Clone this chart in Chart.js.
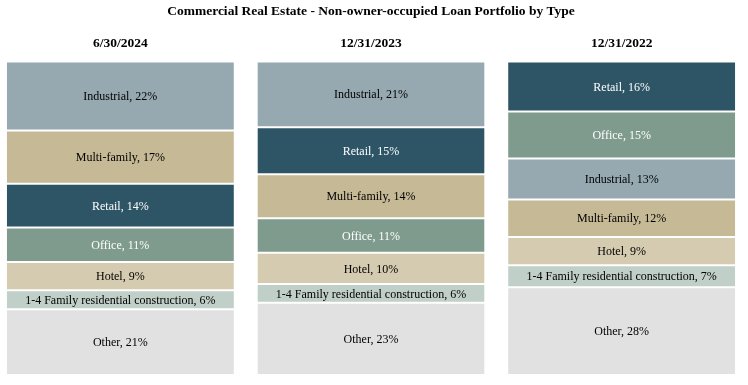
<!DOCTYPE html>
<html>
<head>
<meta charset="utf-8">
<script src="https://cdn.jsdelivr.net/npm/chart.js@4/dist/chart.umd.min.js"></script>
<style>
    html, body { margin: 0; padding: 0; background: #fff; overflow: hidden; }
    #wrap { position: absolute; left: -5px; top: 0; width: 752px; height: 385px; }
</style>
</head>
<body>
<div id="wrap"><canvas id="loanChart"></canvas></div>
<script>
const periods = ['6/30/2024', '12/31/2023', '12/31/2022'];
const types = ['Industrial', 'Multi-family', 'Retail', 'Office', 'Hotel', '1-4 Family residential construction', 'Other'];
// share of portfolio (%) per type, same order as types
const share2024 = [22, 17, 14, 11, 9, 6, 21];
const share2023 = [21, 14, 15, 11, 10, 6, 23];
const share2022 = [13, 12, 16, 15, 9, 7, 28];

const typeColors = ['#96a9b1', '#c6b995', '#2e5566', '#7f9b8e', '#d5cbb1', '#c0cfc8', '#e1e1e1'];
const typeTextColors = ['#000', '#000', '#fff', '#fff', '#000', '#000', '#000'];

const shares = [share2024, share2023, share2022];

// stacking order per period: "Other" at the bottom, then smallest to largest
function layerOrder(values) {
    const idx = types.map((t, i) => i).filter(i => types[i] !== 'Other');
    idx.sort((a, b) => values[a] - values[b]);
    return [types.indexOf('Other')].concat(idx);
}
const orders = shares.map(layerOrder);

const datasets = types.map((t, layer) => {
    const ids = orders.map(o => o[layer]);
    return {
        label: 'Layer ' + (layer + 1),
        data: ids.map((id, p) => shares[p][id]),
        names: ids.map(id => types[id]),
        textColors: ids.map(id => typeTextColors[id]),
        backgroundColor: ids.map(id => typeColors[id]),
        borderColor: '#ffffff',
        borderWidth: { top: 1, bottom: 1, left: 0, right: 0 },
        borderSkipped: false,
        categoryPercentage: 1,
        barPercentage: 0.906
    };
});

const segmentLabels = {
    id: 'segmentLabels',
    afterDatasetsDraw(chart) {
        const ctx = chart.ctx;
        ctx.save();
        ctx.font = '12px "Liberation Serif", "Times New Roman", serif';
        ctx.textAlign = 'center';
        ctx.textBaseline = 'middle';
        chart.data.datasets.forEach((ds, di) => {
            chart.getDatasetMeta(di).data.forEach((bar, i) => {
                ctx.fillStyle = ds.textColors[i];
                ctx.fillText(ds.names[i] + ', ' + ds.data[i] + '%', bar.x, (bar.y + bar.base) / 2 + 1);
            });
        });
        ctx.restore();
    }
};

new Chart(document.getElementById('loanChart'), {
    type: 'bar',
    data: { labels: periods, datasets: datasets },
    options: {
        responsive: true,
        maintainAspectRatio: false,
        animation: false,
        layout: { padding: { top: 0, bottom: 10, left: 0, right: 0 } },
        scales: {
            x: {
                stacked: true,
                position: 'top',
                grid: { display: false, drawTicks: false },
                border: { display: false },
                ticks: {
                    color: '#000',
                    padding: 10,
                    font: { family: '"Liberation Serif", "Times New Roman", serif', size: 13.5, weight: 'bold' }
                }
            },
            y: {
                stacked: true,
                display: false,
                min: 0,
                max: 100
            }
        },
        plugins: {
            legend: { display: false },
            tooltip: { enabled: false },
            title: {
                display: true,
                text: 'Commercial Real Estate - Non-owner-occupied Loan Portfolio by Type',
                color: '#000',
                font: { family: '"Liberation Serif", "Times New Roman", serif', size: 13.5, weight: 'bold' },
                padding: { top: 3, bottom: 6 }
            }
        }
    },
    plugins: [segmentLabels]
});
</script>
</body>
</html>
